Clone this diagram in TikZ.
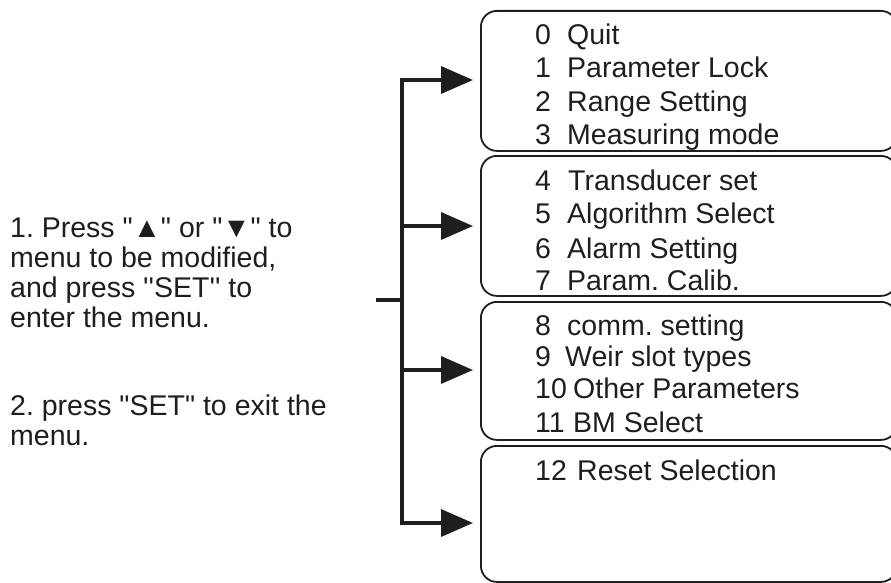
\documentclass[tikz,border=0pt]{standalone}
\usepackage{fontspec}
\setmainfont{Liberation Sans}[Ligatures=TeXOff]
\usetikzlibrary{arrows.meta}
\definecolor{ink}{HTML}{1E1E1E}
\frenchspacing
\newcommand{\menuitem}[3]{\makebox[#2][l]{#1}#3}
\begin{document}
\begin{tikzpicture}[x=1pt,y=-1pt,
  menubox/.style={draw=ink, line width=1.8pt, rounded corners=16pt, minimum width=416pt, anchor=north west, inner sep=0pt},
  feed/.style={draw=ink, line width=3.5pt, -{Triangle[length=32pt,width=27pt]}},
  trunk/.style={draw=ink, line width=3.5pt, line cap=rect},
  lbl/.style={anchor=base west, inner sep=0pt, text=ink, font=\fontsize{28.5}{30}\selectfont\frenchspacing},
]
\useasboundingbox (0,0) rectangle (891,583);

% menu boxes
\node[menubox, minimum height=140pt] (b1) at (480,10) {};
\node[menubox, minimum height=140pt] (b2) at (480,155) {};
\node[menubox, minimum height=138pt] (b3) at (480,301) {};
\node[menubox, minimum height=136pt] (b4) at (480,445) {};

% box texts
\node[lbl] (m0) at (535,45) {\menuitem{0}{32pt}{Quit}};
\node[lbl] (m1) at (535,78) {\menuitem{1}{32pt}{Parameter Lock}};
\node[lbl] (m2) at (535,112) {\menuitem{2}{32pt}{Range Setting}};
\node[lbl] (m3) at (535,145) {\menuitem{3}{32pt}{Measuring mode}};
\node[lbl] (m4) at (535,190) {\menuitem{4}{33pt}{Transducer set}};
\node[lbl] (m5) at (535,223) {\menuitem{5}{32pt}{Algorithm Select}};
\node[lbl] (m6) at (535,258) {\menuitem{6}{32pt}{Alarm Setting}};
\node[lbl] (m7) at (535,290) {\menuitem{7}{32pt}{Param. Calib.}};
\node[lbl] (m8) at (535,335) {\menuitem{8}{32pt}{comm. setting}};
\node[lbl] (m9) at (535,366) {\menuitem{9}{30pt}{Weir slot types}};
\node[lbl] (m10) at (535,398) {\menuitem{10}{38pt}{Other Parameters}};
\node[lbl] (m11) at (535,432) {\menuitem{11}{38pt}{BM Select}};
\node[lbl] (m12) at (535,480) {\menuitem{12}{42pt}{Reset Selection}};

% help text
\node[lbl] (h1) at (10,237) {1. Press "▲" or "▼" to};
\node[lbl] (h2) at (10,267) {menu to be modified,};
\node[lbl] (h3) at (10,297) {and press ''SET'' to};
\node[lbl] (h4) at (10,327) {enter the menu.};
\node[lbl] (h5) at (10,415) {2. press "SET" to exit the};
\node[lbl] (h6) at (10,445) {menu.};

% connectors
\coordinate (j1) at (402,80);
\coordinate (j2) at (402,226);
\coordinate (j3) at (402,370);
\coordinate (j4) at (402,523);
\coordinate (s) at (378,300);
\foreach \b in {1,2,3,4} \coordinate (e\b) at ([xshift=-7pt]b\b.west);

\draw[trunk] (j1) -- (j4);
\draw[trunk] (s) -- (s -| j1);
\draw[feed] (j1) -- (e1 |- j1);
\draw[feed] (j2) -- (e2 |- j2);
\draw[feed] (j3) -- (e3 |- j3);
\draw[feed] (j4) -- (e4 |- j4);
\end{tikzpicture}
\end{document}
